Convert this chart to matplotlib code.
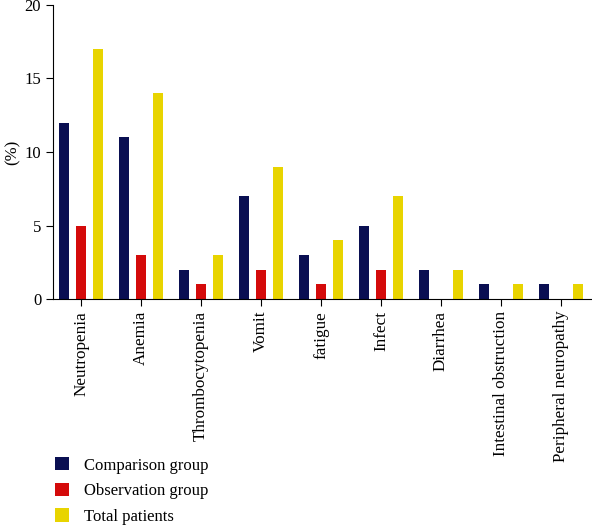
import numpy as np
import matplotlib.pyplot as plt
from matplotlib.patches import Patch

plt.rcParams['font.family'] = ['Liberation Serif', 'DejaVu Serif']

categories = ['Neutropenia', 'Anemia', 'Thrombocytopenia', 'Vomit', 'fatigue',
              'Infect', 'Diarrhea', 'Intestinal obstruction', 'Peripheral neuropathy']
comparison = [12, 11, 2, 7, 3, 5, 2, 1, 1]
observation = [5, 3, 1, 2, 1, 2, 0, 0, 0]
total = [17, 14, 3, 9, 4, 7, 2, 1, 1]
series_names = ['Comparison group', 'Observation group', 'Total patients']
colors = ['#0a0f52', '#d40a0a', '#e8d400']

fig = plt.figure(figsize=(5.92, 5.26), dpi=100)
ax = fig.add_axes([53/592, 1 - 299/526, 1 - 53/592, 294/526])

x = np.arange(len(categories))
w = 0.17
off = 0.28
for vals, c, dx in zip([comparison, observation, total], colors, [-off, 0, off]):
    ax.bar(x + dx, vals, width=w, color=c, edgecolor='none')

ax.set_xlim(-0.47, 8.52)
ax.set_ylim(0, 20)
ax.set_yticks([0, 5, 10, 15, 20])
ax.set_xticks(x)
ax.set_xticklabels(categories, rotation=90, fontsize=12.3)
ax.tick_params(axis='y', labelsize=12, length=5, direction='out')
ax.tick_params(axis='x', length=5, direction='out')
ax.set_ylabel('(%)', fontsize=12)
ax.yaxis.set_label_coords(-0.06, 0.5)
ax.spines['top'].set_visible(False)
ax.spines['right'].set_visible(False)

handles = [Patch(facecolor=c, edgecolor='none') for c in colors]
fig.legend(handles, series_names, loc='lower left', bbox_to_anchor=(0.068, -0.026),
           frameon=False, fontsize=12, handlelength=0.85, handleheight=0.85,
           handletextpad=0.85, labelspacing=0.55)

fig.savefig('out.png', dpi=100)
